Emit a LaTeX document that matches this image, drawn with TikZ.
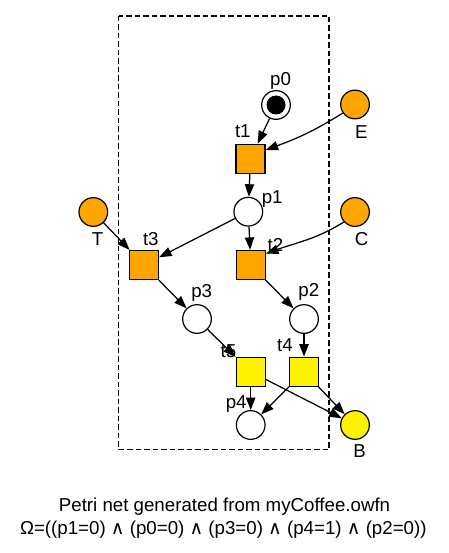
\documentclass[tikz,border=0pt]{standalone}
\usepackage{fontspec}
\setmainfont{Liberation Sans}
\newfontfamily\djv{DejaVu Sans}
\usetikzlibrary{arrows.meta}
\begin{document}
\begin{tikzpicture}[x=1pt,y=-1pt,
  place/.style={circle,draw,line width=1.2pt,minimum size=28.7pt,inner sep=0pt,fill=white},
  trans/.style={rectangle,draw,line width=1.2pt,minimum size=29pt,inner sep=0pt},
  lbl/.style={font=\fontsize{18.7}{22}\selectfont,inner sep=0pt},
  arc/.style={line width=1.25pt,-{Triangle[length=12.5pt,width=9.3pt]}},
  boundary/.style={line width=1.2pt,dash pattern=on 5.5pt off 3pt}
  ]
\useasboundingbox (0,0) rectangle (448,553);
\draw[boundary] (118.5,16) rectangle (329,449.5);
% labels (drawn first, nodes may cover them)
\node[lbl] (lp0) at (280.5,80.8) {p0};
\node[lbl] (lt1) at (242.8,131.3) {t1};
\node[lbl] (lE) at (361.3,132.5) {E};
\node[lbl] (lp1) at (272.2,199.2) {p1};
\node[lbl] (lC) at (361.5,239.5) {C};
\node[lbl] (lT) at (97.5,239.5) {T};
\node[lbl] (lt3) at (150.8,239.5) {t3};
\node[lbl] (lt2) at (275.5,245.5) {t2};
\node[lbl] (lp3) at (201.7,292.5) {p3};
\node[lbl] (lp2) at (308.8,292) {p2};
\node[lbl] (lt5) at (228.5,351.5) {t5};
\node[lbl] (lt4) at (285,345.5) {t4};
\node[lbl] (lp4) at (236.2,403.8) {p4};
\node[lbl] (lB) at (359.5,451.3) {B};
% nodes
\node[place] (p0) at (276,105) {};
\node[circle,fill=black,minimum size=19pt,inner sep=0pt] (tok) at (p0) {};
\node[place,fill={rgb,255:red,255;green,165;blue,0}] (E) at (355,104.5) {};
\node[trans,fill={rgb,255:red,255;green,165;blue,0}] (t1) at (250.5,158.7) {};
\node[place] (p1) at (248.3,211.7) {};
\node[place,fill={rgb,255:red,255;green,165;blue,0}] (C) at (355,212) {};
\node[place,fill={rgb,255:red,255;green,165;blue,0}] (T) at (93.3,212) {};
\node[trans,fill={rgb,255:red,255;green,165;blue,0}] (t3) at (144,265) {};
\node[trans,fill={rgb,255:red,255;green,165;blue,0}] (t2) at (250.8,265) {};
\node[place] (p3) at (197,319) {};
\node[place] (p2) at (304,319) {};
\node[trans,fill=yellow] (t5) at (250.7,371.7) {};
\node[trans,fill=yellow] (t4) at (304,371.7) {};
\node[place] (p4) at (250.7,425) {};
\node[place,fill=yellow] (B) at (355,425) {};
% arcs
\draw[arc] (p0) -- (t1);
\draw[arc] (E.215) to[out=212,in=20] (t1.30);
\draw[arc] (t1) -- (p1);
\draw[arc] (p1) -- (t3);
\draw[arc] (p1) -- (t2);
\draw[arc] (C.222) to[out=212,in=20] (t2.37);
\draw[arc] (T) -- (t3);
\draw[arc] (t3) -- (p3);
\draw[arc] (t2) -- (p2);
\draw[arc] (p3) -- (t5);
\draw[arc] (p2) -- (t4);
\draw[arc] (t5) -- (p4);
\draw[arc] (t5) -- (B);
\draw[arc] (t4) -- (p4);
\draw[arc] (t4) -- (B);
% caption
\node[lbl,anchor=base] (cap1) at (224.5,511.7) {Petri net generated from myCoffee.owfn};
\node[lbl,anchor=base] (cap2) at (223.3,534) {Ω=((p1=0) {\djv ∧} (p0=0) {\djv ∧} (p3=0) {\djv ∧} (p4=1) {\djv ∧} (p2=0))};
\end{tikzpicture}
\end{document}
